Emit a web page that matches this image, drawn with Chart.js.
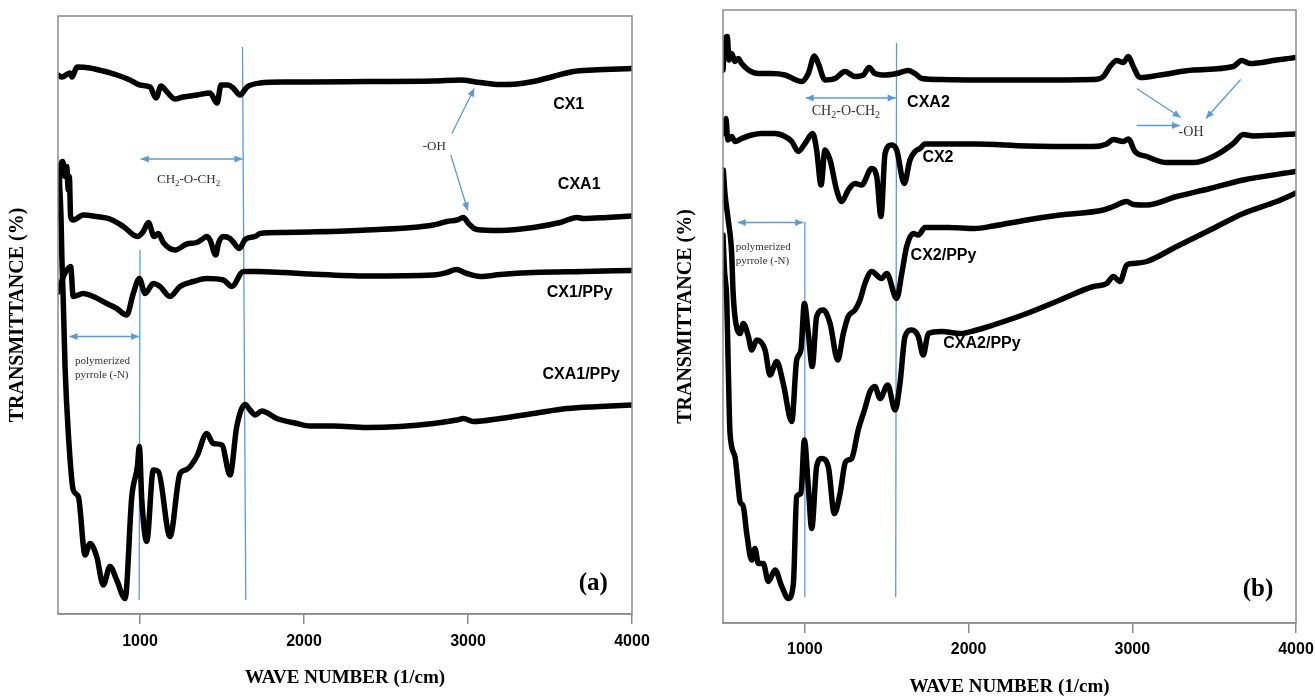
<!DOCTYPE html>
<html>
<head>
<meta charset="utf-8">
<title>FTIR spectra</title>
<script src="https://cdn.jsdelivr.net/npm/chart.js@4.4.0/dist/chart.umd.min.js"></script>
<style>
  html, body { margin: 0; padding: 0; background: #fff; }
  body { position: relative; width: 1315px; height: 697px; overflow: hidden; }
  canvas { position: absolute; top: 0; }
  #ftirA { left: 0; }
  #ftirB { left: 662px; }
</style>
</head>
<body>
<canvas id="ftirA" width="662" height="697"></canvas>
<canvas id="ftirB" width="670" height="697"></canvas>
<script>
// wave number axis labels
const xTicks = [1000, 2000, 3000, 4000];

// ---- panel (a) spectra (offset transmittance, arbitrary units) ----
const cx1Wn = [500,524,573,585,616,695,775,860,939,1000,1061,1098,1128,1165,1214,1263,1348,1427,1470,1494,1537,1568,1610,1653,1732,1873,2037,2383,2788,2952,3074,3196,3298,3398,3520,3642,3764,4000];
const cx1T  = [107.8,107.4,108.2,107.4,109.4,109.2,108.6,107.8,106.8,105.8,105.4,103.2,105.6,104.4,103.0,103.4,103.8,104.2,102.2,105.8,105.8,105.2,103.8,105.4,106.2,106.4,106.4,106.5,106.6,106.8,106.3,105.9,106.0,106.5,107.5,108.5,108.8,109.1];

const cxa1Wn = [500,512,529,543,553,563,569,577,593,654,736,817,898,984,1020,1051,1086,1112,1142,1214,1285,1346,1386,1407,1427,1462,1478,1508,1549,1566,1606,1641,1702,1732,1874,2037,2383,2789,2871,2932,2972,3003,3054,3196,3399,3562,3664,3704,3847,4000];
const cxa1T  = [78.8,88.2,90.5,87.5,89.5,84.8,87.5,79.5,78.8,79.8,79.5,79.0,77.5,75.5,76.5,78.3,75.5,76.1,74.3,72.8,74.0,74.3,75.1,75.5,74.8,71.8,74.1,75.5,75.1,74.5,73.1,74.9,75.5,76.1,76.3,76.4,76.8,77.8,78.5,78.8,79.3,78.1,76.9,76.7,77.3,78.3,79.3,79.1,79.3,79.6];

const cx1PpyWn = [500,537,577,593,654,715,797,858,919,959,996,1031,1081,1122,1183,1244,1325,1407,1508,1560,1630,1712,1874,2037,2383,2789,2871,2928,2993,3074,3196,3399,3704,4000];
const cx1PpyT  = [64.4,67.8,69.5,63.5,64.1,63.5,62.1,61.1,59.8,64.1,67.1,64.1,66.1,65.5,63.5,65.5,66.5,67.1,66.8,65.5,68.5,68.5,68.3,68.0,67.6,67.8,68.3,68.9,68.1,67.5,67.9,68.3,68.5,68.7];

const cxa1PpyWn = [506,518,524,532,543,563,593,624,665,695,736,776,817,858,909,950,984,996,1011,1041,1081,1112,1183,1244,1285,1346,1407,1447,1499,1549,1590,1641,1671,1702,1743,1834,1956,2037,2179,2383,2586,2789,2932,2972,3033,3196,3399,3603,3806,4000];
const cxa1PpyT  = [87.8,79.8,70.8,62.8,49.5,36.1,24.8,23.5,11.8,14.1,11.5,5.8,9.5,6.8,3.1,23.5,29.5,33.5,22.8,14.5,28.8,28.5,15.5,28.1,28.9,31.5,36.1,34.1,33.8,27.8,37.5,41.9,40.8,39.8,40.6,39.1,38.1,37.6,37.6,37.3,37.5,38.1,38.8,39.1,38.5,39.1,40.1,41.1,41.5,41.8];

// ---- panel (b) spectra ----
const cxa2Wn = [500,512,526,537,553,573,593,614,655,716,797,879,981,1021,1058,1082,1123,1184,1245,1306,1357,1392,1428,1490,1561,1632,1673,1714,1836,2039,2355,2762,2823,2864,2905,2945,2976,3006,3047,3169,3373,3617,3668,3719,3882,4000];
const cxa2T  = [110.6,116.6,117.3,112.6,113.9,112.3,112.9,111.9,110.6,109.9,109.9,109.6,108.3,109.9,113.4,111.9,108.6,108.9,110.3,109.3,109.6,111.1,109.9,109.6,109.9,110.5,109.9,108.9,108.7,108.6,108.6,108.7,109.3,111.3,112.5,112.1,113.3,111.3,109.1,109.6,110.6,111.3,112.5,111.9,112.6,113.1];

const cx2Wn = [502,518,529,553,573,614,675,736,818,879,920,960,1001,1048,1072,1099,1123,1154,1194,1225,1265,1306,1347,1408,1439,1465,1490,1530,1561,1607,1642,1673,1703,1734,1876,2039,2355,2762,2844,2884,2945,2976,3016,3088,3210,3373,3495,3617,3678,3739,3882,4000];
const cx2T  = [97.9,100.9,96.6,97.3,96.3,96.9,97.6,97.9,97.9,97.3,96.3,94.3,95.9,97.9,94.6,87.6,94.6,92.6,86.6,84.3,86.6,87.9,87.6,90.9,89.3,81.3,93.9,95.6,94.6,87.9,92.6,94.3,94.9,95.8,95.8,95.8,95.4,95.3,95.8,96.7,96.3,96.8,94.3,93.3,92.1,92.1,93.3,95.9,97.7,97.4,97.6,97.8];

const cx2PpyWn = [502,512,532,553,561,573,604,624,655,675,706,757,787,828,868,920,950,976,997,1021,1045,1072,1113,1154,1201,1235,1265,1306,1337,1367,1408,1469,1500,1561,1592,1622,1662,1693,1734,1876,2039,2151,2355,2558,2823,2884,2966,3006,3088,3271,3475,3678,4000];
const cx2PpyT  = [90.6,85.9,80.6,73.9,66.6,61.3,57.9,59.9,57.3,54.6,56.6,54.6,49.6,52.3,47.9,40.3,52.6,54.6,63.9,57.9,51.3,61.3,62.6,59.9,52.6,57.9,61.3,62.6,64.6,67.9,70.3,68.9,69.9,64.9,69.9,75.3,77.9,77.6,79.1,79.1,78.9,79.4,80.6,81.6,82.6,83.3,84.3,83.7,83.6,85.3,86.9,88.6,90.3];

const cxa2PpyWn = [500,509,523,532,543,573,593,604,624,645,675,695,716,746,777,818,859,899,930,950,976,997,1021,1042,1072,1103,1143,1180,1215,1245,1265,1286,1326,1367,1398,1428,1459,1506,1551,1581,1612,1653,1693,1723,1754,1836,1948,2050,2151,2355,2558,2762,2844,2884,2925,2966,3006,3088,3271,3475,3678,3882,4000];
const cxa2PpyT  = [77.6,70.6,64.6,51.3,37.9,33.3,27.3,24.3,23.3,17.9,12.6,14.9,11.9,11.9,8.3,10.6,7.3,4.9,7.9,25.3,25.9,36.6,27.3,18.9,31.3,32.9,31.3,21.9,25.9,31.9,32.6,32.9,38.6,42.9,46.3,47.3,44.9,47.6,42.6,47.9,57.3,58.6,57.3,53.6,57.9,58.3,57.9,58.6,59.6,61.9,64.6,67.3,67.9,69.3,68.3,71.6,71.9,72.3,75.3,78.6,81.9,84.3,86.0];

const BLUE = '#5b9bd5';
const FRAME = '#8c8c8c';
const SERIES_FONT = 'bold 16px "Liberation Sans", Arial, sans-serif';
const PANEL_FONT = 'bold 25px "Liberation Serif", "Times New Roman", serif';
const note = size => size + 'px "Liberation Serif", "Times New Roman", serif';
const ch2Parts = [['CH', false], ['2', true], ['-O-CH', false], ['2', true]];

// annotation layers, placed in data coordinates
const notesA = {
  guides: [
    { x1: 1625, y1: 113.4, x2: 1645, y2: 2.8 },
    { x1: 1000, y1: 72.8, x2: 995, y2: 2.8 }
  ],
  arrows: [
    { x1: 2902, y1: 96.1, x2: 3038, y2: 105.1 },
    { x1: 2895, y1: 91.8, x2: 2999, y2: 80.7 },
    { x1: 1005, y1: 91, x2: 1625, y2: 91, both: true },
    { x1: 570, y1: 55.5, x2: 995, y2: 55.5, both: true }
  ],
  labels: [
    { x: 3614, y: 101.8, text: 'CX1', font: SERIES_FONT },
    { x: 3678, y: 85.8, text: 'CXA1', font: SERIES_FONT },
    { x: 3681, y: 64.2, text: 'CX1/PPy', font: SERIES_FONT },
    { x: 3690, y: 47.8, text: 'CXA1/PPy', font: SERIES_FONT },
    { x: 2794, y: 93.4, text: '-OH', font: note(13), color: '#333' },
    { x: 1296, y: 86.8, parts: ch2Parts, font: note(13), subFont: note(9), color: '#333' },
    { x: 604, y: 50.5, text: 'polymerized', font: note(11), color: '#333', align: 'left' },
    { x: 604, y: 47.8, text: 'pyrrole (-N)', font: note(11), color: '#333', align: 'left' },
    { x: 3764, y: 6.0, text: '(a)', font: PANEL_FONT }
  ]
};

const notesB = {
  guides: [
    { x1: 1560, y1: 116, x2: 1555, y2: 5.2 },
    { x1: 1000, y1: 80.2, x2: 1000, y2: 5.2 }
  ],
  arrows: [
    { x1: 3027, y1: 106.9, x2: 3296, y2: 101.1 },
    { x1: 3662, y1: 108.7, x2: 3450, y2: 100.9 },
    { x1: 3027, y1: 99.5, x2: 3291, y2: 99.5 },
    { x1: 1005, y1: 105, x2: 1555, y2: 105, both: true },
    { x1: 590, y1: 80.1, x2: 990, y2: 80.1, both: true }
  ],
  labels: [
    { x: 1755, y: 104.1, text: 'CXA2', font: SERIES_FONT },
    { x: 1813, y: 93.1, text: 'CX2', font: SERIES_FONT },
    { x: 1847, y: 73.4, text: 'CX2/PPy', font: SERIES_FONT },
    { x: 2082, y: 55.9, text: 'CXA2/PPy', font: SERIES_FONT },
    { x: 3359, y: 98.1, text: '-OH', font: note(14), color: '#333' },
    { x: 1251, y: 102.3, parts: ch2Parts, font: note(14), subFont: note(10), color: '#333' },
    { x: 578, y: 75.1, text: 'polymerized', font: note(11), color: '#333', align: 'left' },
    { x: 578, y: 72.4, text: 'pyrrole (-N)', font: note(11), color: '#333', align: 'left' },
    { x: 3768, y: 6.6, text: '(b)', font: PANEL_FONT }
  ]
};

function spectrum(wn, t) {
  return wn.map((x, i) => ({ x: x, y: t[i] }));
}

function drawArrow(ctx, x1, y1, x2, y2, both) {
  const ang = Math.atan2(y2 - y1, x2 - x1);
  const len = 8, half = 3.5;
  ctx.strokeStyle = BLUE;
  ctx.fillStyle = BLUE;
  ctx.lineWidth = 1.3;
  ctx.beginPath();
  ctx.moveTo(x1, y1);
  ctx.lineTo(x2, y2);
  ctx.stroke();
  const head = (px, py, a) => {
    const c = Math.cos(a), s = Math.sin(a);
    ctx.beginPath();
    ctx.moveTo(px, py);
    ctx.lineTo(px - len * c + half * s, py - len * s - half * c);
    ctx.lineTo(px - len * c - half * s, py - len * s + half * c);
    ctx.closePath();
    ctx.fill();
  };
  head(x2, y2, ang);
  if (both) head(x1, y1, ang + Math.PI);
}

function drawLabel(ctx, lb, px, py) {
  const parts = lb.parts || [[lb.text, false]];
  ctx.fillStyle = lb.color || '#000';
  ctx.textBaseline = 'middle';
  ctx.textAlign = 'left';
  const widths = parts.map(p => {
    ctx.font = p[1] ? lb.subFont : lb.font;
    return ctx.measureText(p[0]).width;
  });
  const total = widths.reduce((a, b) => a + b, 0);
  let cx = lb.align === 'left' ? px : px - total / 2;
  parts.forEach((p, i) => {
    ctx.font = p[1] ? lb.subFont : lb.font;
    ctx.fillText(p[0], cx, p[1] ? py + 4 : py);
    cx += widths[i];
  });
}

// guides under the spectra, frame + arrows + text above them
function notesPlugin(notes) {
  return {
    id: 'ftirNotes',
    beforeDatasetsDraw(chart) {
      const { ctx, scales: { x, y } } = chart;
      ctx.save();
      ctx.strokeStyle = BLUE;
      ctx.lineWidth = 1.3;
      notes.guides.forEach(g => {
        ctx.beginPath();
        ctx.moveTo(x.getPixelForValue(g.x1), y.getPixelForValue(g.y1));
        ctx.lineTo(x.getPixelForValue(g.x2), y.getPixelForValue(g.y2));
        ctx.stroke();
      });
      ctx.restore();
    },
    afterDatasetsDraw(chart) {
      const { ctx, chartArea: a, scales: { x, y } } = chart;
      ctx.save();
      ctx.strokeStyle = FRAME;
      ctx.lineWidth = 1.5;
      ctx.strokeRect(a.left, a.top, a.right - a.left, a.bottom - a.top);
      notes.arrows.forEach(ar => drawArrow(ctx,
        x.getPixelForValue(ar.x1), y.getPixelForValue(ar.y1),
        x.getPixelForValue(ar.x2), y.getPixelForValue(ar.y2), ar.both));
      notes.labels.forEach(lb => drawLabel(ctx, lb, x.getPixelForValue(lb.x), y.getPixelForValue(lb.y)));
      ctx.restore();
    }
  };
}

function makeChart(id, series, notes, cfg) {
  return new Chart(document.getElementById(id), {
    type: 'line',
    data: {
      datasets: series.map(s => ({
        label: s.name,
        data: spectrum(s.wn, s.t),
        borderColor: '#000',
        borderWidth: 5.5,
        pointRadius: 0,
        fill: false,
        cubicInterpolationMode: 'monotone',
        borderJoinStyle: 'round',
        borderCapStyle: 'round'
      }))
    },
    options: {
      responsive: false,
      animation: false,
      devicePixelRatio: 1,
      layout: { padding: { left: 0, top: cfg.top, right: cfg.right, bottom: 0 } },
      plugins: {
        legend: { display: false },
        tooltip: { enabled: false }
      },
      scales: {
        x: {
          type: 'linear',
          min: 500,
          max: 4000,
          afterBuildTicks: s => { s.ticks = xTicks.map(v => ({ value: v })); },
          afterFit: s => { s.height = cfg.xHeight; },
          grid: { display: true, drawOnChartArea: false, drawTicks: true, tickLength: 10, color: FRAME, lineWidth: 1.5 },
          border: { display: true, color: FRAME, width: 1.5 },
          ticks: {
            color: '#000',
            padding: cfg.tickPad,
            maxRotation: 0,
            font: { family: '"Liberation Sans", Arial, sans-serif', size: 16, weight: 'bold' },
            callback: v => String(v)
          },
          title: {
            display: true,
            text: 'WAVE NUMBER (1/cm)',
            color: '#000',
            font: { family: '"Liberation Serif", "Times New Roman", serif', size: 19, weight: 'bold', lineHeight: 1 },
            padding: { top: 0, bottom: cfg.titlePad }
          }
        },
        y: {
          min: 0,
          max: cfg.yMax,
          afterFit: s => { s.width = cfg.yWidth; },
          ticks: { display: false },
          grid: { display: false },
          border: { display: false },
          title: {
            display: true,
            text: 'TRANSMITTANCE (%)',
            color: '#000',
            font: { family: '"Liberation Serif", "Times New Roman", serif', size: 20, weight: 'bold', lineHeight: 1 },
            padding: { top: cfg.yTitlePad, bottom: 0 }
          }
        }
      }
    },
    plugins: [notesPlugin(notes)]
  });
}

makeChart('ftirA', [
  { name: 'CX1', wn: cx1Wn, t: cx1T },
  { name: 'CXA1', wn: cxa1Wn, t: cxa1T },
  { name: 'CX1/PPy', wn: cx1PpyWn, t: cx1PpyT },
  { name: 'CXA1/PPy', wn: cxa1PpyWn, t: cxa1PpyT }
], notesA, { top: 16, right: 30, xHeight: 83, yWidth: 58, yMax: 119.6, tickPad: 8, titlePad: 9.5, yTitlePad: 8 });

makeChart('ftirB', [
  { name: 'CXA2', wn: cxa2Wn, t: cxa2T },
  { name: 'CX2', wn: cx2Wn, t: cx2T },
  { name: 'CX2/PPy', wn: cx2PpyWn, t: cx2PpyT },
  { name: 'CXA2/PPy', wn: cxa2PpyWn, t: cxa2PpyT }
], notesB, { top: 10, right: 36, xHeight: 74, yWidth: 61, yMax: 122.6, tickPad: 7, titlePad: 0, yTitlePad: 14 });
</script>
</body>
</html>
